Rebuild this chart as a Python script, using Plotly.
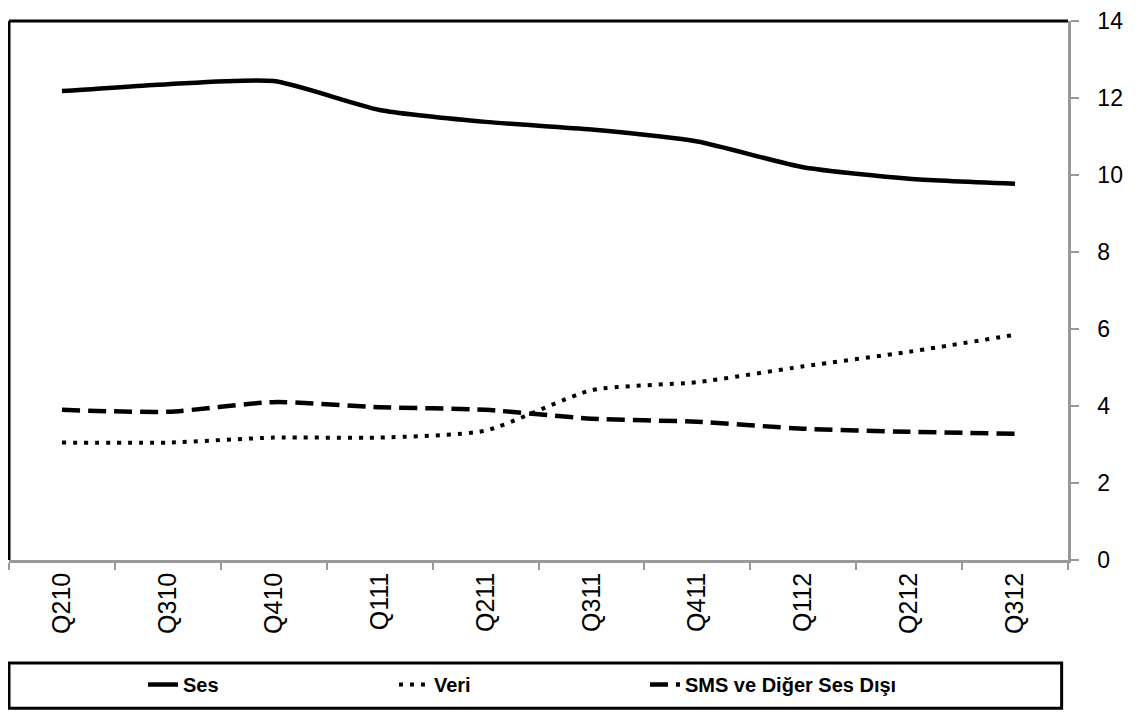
import plotly.graph_objects as go

# quarters on the x axis
quarters = ["Q210", "Q310", "Q410", "Q111", "Q211", "Q311", "Q411", "Q112", "Q212", "Q312"]

# series values
ses = [12.18, 12.36, 12.44, 11.69, 11.38, 11.18, 10.87, 10.20, 9.90, 9.77]
veri = [3.05, 3.05, 3.18, 3.18, 3.36, 4.41, 4.62, 5.03, 5.41, 5.85]
sms = [3.90, 3.85, 4.10, 3.97, 3.90, 3.67, 3.59, 3.41, 3.33, 3.28]

font_family = "Arial, Liberation Sans, sans-serif"

fig = go.Figure()

# one trace per series, smooth lines like the original
fig.add_trace(go.Scatter(x=quarters, y=ses, name="Ses", mode="lines",
                         line=dict(color="black", width=4.5, shape="spline", smoothing=0.6)))
fig.add_trace(go.Scatter(x=quarters, y=veri, name="Veri", mode="lines",
                         line=dict(color="black", width=4, dash="4px,7px", shape="spline", smoothing=0.6)))
fig.add_trace(go.Scatter(x=quarters, y=sms, name="SMS ve Diğer Ses Dışı", mode="lines",
                         line=dict(color="black", width=4.5, dash="18px,8px", shape="spline", smoothing=0.6)))

# page body adds 8px round the figure, so the figure is a bit smaller than the window
fig.update_layout(
    width=1134,
    height=705,
    margin=dict(l=1, r=74, t=13, b=153),
    plot_bgcolor="white",
    paper_bgcolor="white",
    font=dict(family=font_family, color="black"),
    showlegend=True,
    legend=dict(
        orientation="h",
        x=0.1265, y=-0.231,
        xanchor="left", yanchor="middle",
        entrywidth=206,
        font=dict(size=20, family=font_family, color="black", weight="bold"),
        bgcolor="rgba(0,0,0,0)",
    ),
)

# x axis: categories, ticks between them, labels turned up
fig.update_xaxes(
    type="category",
    range=[-0.5, 9.5],
    tickson="boundaries",
    ticks="outside",
    ticklen=7,
    tickwidth=2,
    tickcolor="#999999",
    showline=True,
    linecolor="#999999",
    linewidth=2.5,
    showgrid=False,
    automargin=False,
    tickangle=-90,
    tickfont=dict(size=25, family=font_family, color="black"),
)

# y axis on the right side
fig.update_yaxes(
    side="right",
    range=[0, 14],
    dtick=2,
    ticks="outside",
    ticklen=8,
    tickwidth=2,
    tickcolor="#999999",
    showline=True,
    linecolor="#999999",
    linewidth=2.5,
    showgrid=False,
    zeroline=False,
    automargin=False,
    ticklabelstandoff=14,
    ticklabeloverflow="allow",
    tickfont=dict(size=23, family=font_family, color="black"),
)

# black frame on top and left of the plot area
fig.add_shape(type="line", xref="paper", yref="paper", x0=0, y0=1, x1=1, y1=1,
              line=dict(color="black", width=3))
fig.add_shape(type="line", xref="paper", yref="paper", x0=0, y0=0, x1=0, y1=1,
              line=dict(color="black", width=3))

# box round the legend
fig.add_shape(type="rect", xref="paper", yref="paper", x0=0, x1=0.994, y0=-0.275, y1=-0.191,
              line=dict(color="black", width=3))

fig.write_html("out.html")
